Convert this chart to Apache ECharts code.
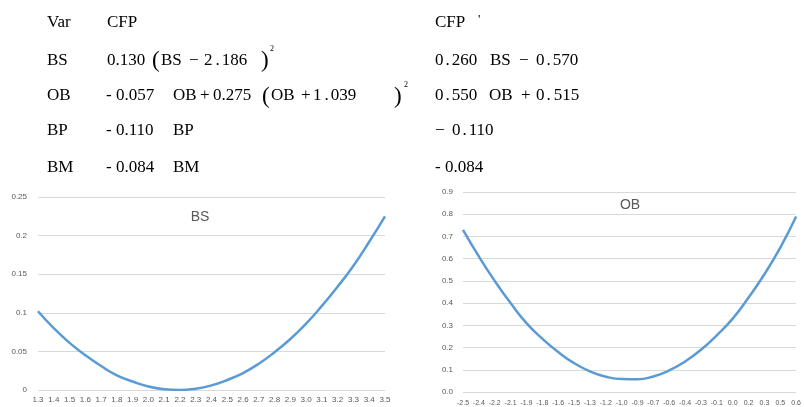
<!DOCTYPE html>
<html><head><meta charset="utf-8">
<script src="https://cdn.jsdelivr.net/npm/echarts@6/dist/echarts.min.js"></script>
<style>html,body{margin:0;padding:0;background:#fff}#c{width:804px;height:407px}</style>
</head><body><div id="c"></div>
<script>
// ---- data ----
const bsCategories = ['1.3','1.4','1.5','1.6','1.7','1.8','1.9','2.0','2.1','2.2','2.3','2.4','2.5','2.6','2.7','2.8','2.9','3.0','3.1','3.2','3.3','3.4','3.5'];
const bsValues = [0.102,0.080,0.061,0.045,0.031,0.019,0.011,0.0045,0.001,0.000,0.0017,0.006,0.013,0.022,0.034,0.049,0.066,0.086,0.109,0.134,0.161,0.192,0.225];
const obCategories = ['-2.5','-2.4','-2.2','-2.1','-1.9','-1.8','-1.6','-1.5','-1.3','-1.2','-1.0','-0.9','-0.7','-0.6','-0.4','-0.3','-0.1','0.0','0.2','0.3','0.5','0.6'];
const obValues = [0.73,0.61,0.50,0.40,0.31,0.24,0.18,0.13,0.093,0.069,0.058,0.057,0.070,0.097,0.137,0.19,0.255,0.33,0.425,0.53,0.65,0.79];
const bsYMax = 0.25, bsYStep = 0.05;
const obYMax = 0.9, obYStep = 0.1;
const chartTitles = ['BS','OB'];
const tableHeader = ['Var','CFP','CFP'];
const rowVars = ['BS','OB','BP','BM'];

// ---- text table layout ----
const SERIF = '"Liberation Serif","Times New Roman",serif';
const mctx = document.createElement('canvas').getContext('2d');
function tw(t,size){ mctx.font = size+'px '+SERIF; return mctx.measureText(t).width; }
const G = [];
const FS = 17;
function put(t, x, y, size){
  G.push({type:'text', silent:true, style:{text:t, x:x, y:y, fontSize:size||FS, fontFamily:SERIF, fill:'#000', align:'left', verticalAlign:'middle'}});
}
// number typeset with extra space around the decimal point
function num(t, x, y, gapL, gapR){
  const i = t.indexOf('.');
  const a = t.slice(0,i), b = t.slice(i+1);
  put(a, x, y);
  let cx = x + tw(a,FS) + gapL;
  put('.', cx, y);
  cx += tw('.',FS) + gapR;
  put(b, cx, y);
}
const rowY = [22.5, 60.3, 95.8, 130.8, 167.5];
// header
put(tableHeader[0], 47, rowY[0]);
put(tableHeader[1], 107, rowY[0]);
put(tableHeader[2], 435, rowY[0]);
put("'", 478, rowY[0]-3, 13);
rowVars.forEach((v,i)=>put(v, 47, rowY[i+1]));
// BS row
let y = rowY[1];
put('0.130', 107, y);
put('(', 152, y+1, 23);
put('BS', 161, y);
put('\u2212', 189, y);
num('2.186', 204, y, 3, 2);
put(')', 261, y+1, 23);
put('2', 270, y-11, 8);
num('0.260', 435, y, 2, 2);
put('BS', 490, y);
put('\u2212', 519, y);
num('0.570', 536, y, 2, 2);
// OB row
y = rowY[2];
put('- 0.057', 106, y);
put('OB', 173, y);
put('+', 200, y);
put('0.275', 213, y);
put('(', 262, y+1, 23);
put('OB', 271, y);
put('+', 301, y);
num('1.039', 313, y, 3, 2);
put(')', 394, y+1, 23);
put('2', 404, y-11, 8);
num('0.550', 435, y, 2, 2);
put('OB', 489, y);
put('+', 521, y);
num('0.515', 536, y, 2, 3);
// BP row
y = rowY[3];
put('- 0.110', 106, y);
put('BP', 173, y);
put('\u2212', 435, y);
num('0.110', 452, y, 2, 2);
// BM row
y = rowY[4];
put('- 0.084', 106, y);
put('BM', 173, y);
put('- 0.084', 435, y);

// chart titles
const SANS = '"Liberation Sans", Arial, sans-serif';
G.push({type:'text', silent:true, style:{text:chartTitles[0], x:200, y:217, fontSize:14, fontFamily:SANS, fill:'#595959', align:'center', verticalAlign:'middle'}});
G.push({type:'text', silent:true, style:{text:chartTitles[1], x:630, y:205, fontSize:14, fontFamily:SANS, fill:'#595959', align:'center', verticalAlign:'middle'}});

const LBL = '#595959';
const chart = echarts.init(document.getElementById('c'), null, {renderer:'canvas'});
chart.setOption({
  animation:false,
  backgroundColor:'#fff',
  grid:[
    {left:38, right:419, top:197, bottom:17},
    {left:463, right:1, top:192, bottom:15}
  ],
  xAxis:[
    {type:'category', gridIndex:0, data:bsCategories, boundaryGap:false,
     axisLine:{show:false}, axisTick:{show:false},
     axisLabel:{fontSize:8, color:LBL, margin:6, interval:0, fontFamily:SANS}},
    {type:'category', gridIndex:1, data:obCategories, boundaryGap:false,
     axisLine:{show:false}, axisTick:{show:false},
     axisLabel:{fontSize:7, color:LBL, margin:8, interval:0, fontFamily:SANS}}
  ],
  yAxis:[
    {type:'value', gridIndex:0, min:0, max:bsYMax, interval:bsYStep,
     axisLine:{show:false}, axisTick:{show:false},
     splitLine:{lineStyle:{color:'#d9d9d9', width:1}},
     axisLabel:{fontSize:8, color:LBL, margin:11, fontFamily:SANS}},
    {type:'value', gridIndex:1, min:0, max:obYMax, interval:obYStep,
     axisLine:{show:false}, axisTick:{show:false},
     splitLine:{lineStyle:{color:'#d9d9d9', width:1}},
     axisLabel:{fontSize:8, color:LBL, margin:10, fontFamily:SANS, formatter:v=>v.toFixed(1)}}
  ],
  series:[
    {type:'line', xAxisIndex:0, yAxisIndex:0, data:bsValues, smooth:true, symbol:'none',
     lineStyle:{color:'#5B9BD5', width:2.5}},
    {type:'line', xAxisIndex:1, yAxisIndex:1, data:obValues, smooth:true, symbol:'none',
     lineStyle:{color:'#5B9BD5', width:2.5}}
  ],
  graphic:G
});
</script></body></html>
